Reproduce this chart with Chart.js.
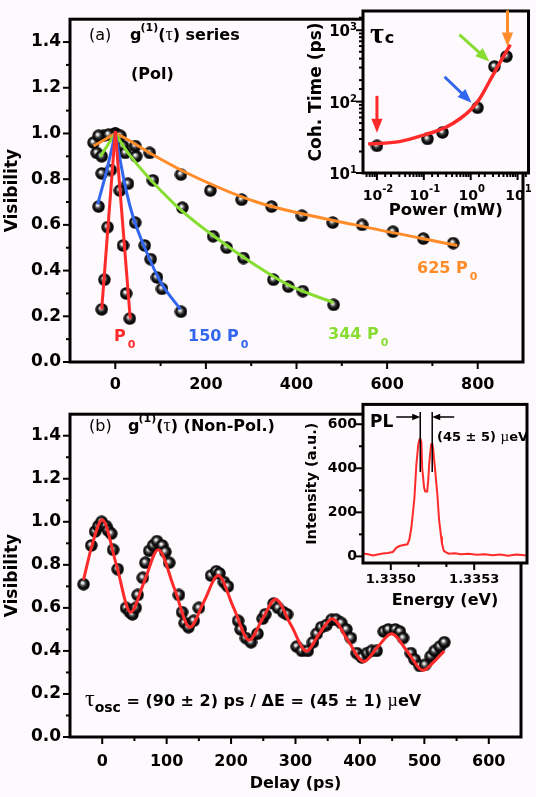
<!DOCTYPE html>
<html>
<head>
<meta charset="utf-8">
<script src="https://cdn.jsdelivr.net/npm/chart.js@4.4.1/dist/chart.umd.min.js"></script>
<style>
  body { margin: 0; background: #fdf9fc; }
  #wrap { position: relative; width: 536px; height: 797px; overflow: hidden; }
  canvas { position: absolute; }
</style>
</head>
<body>
<div id="wrap">
  <canvas id="chartA" style="left:0;top:0;width:536px;height:395px" width="536" height="395"></canvas>
  <canvas id="chartB" style="left:0;top:395px;width:536px;height:402px" width="536" height="402"></canvas>
  <canvas id="insetA" style="left:300px;top:0;width:236px;height:225px" width="236" height="225"></canvas>
  <canvas id="insetB" style="left:300px;top:390px;width:236px;height:225px" width="236" height="225"></canvas>
</div>
<script>
// ---- panel (a): visibility vs delay (ps), polarised, four powers
var p0Delay   = [-30, -24, -17, -10, 0, 10, 17, 24, 32];
var p0Vis     = [0.23, 0.36, 0.59, 0.84, 1.00, 0.75, 0.51, 0.30, 0.19];
var p150Delay = [-37, -30, 0, 28, 44, 65, 78, 92, 103, 145];
var p150Vis   = [0.68, 0.825, 1.00, 0.78, 0.61, 0.51, 0.45, 0.37, 0.32, 0.22];
var p344Delay = [-41, -30, -26, -4, 17, 22, 46, 83, 148, 216, 246, 283, 349, 382, 414, 482];
var p344Vis   = [0.915, 0.90, 0.99, 0.995, 0.945, 0.915, 0.90, 0.795, 0.675, 0.55, 0.50, 0.455, 0.36, 0.33, 0.31, 0.25];
var p625Delay = [-48, -37, -15, 11, 44, 76, 145, 210, 279, 345, 412, 480, 545, 613, 680, 746];
var p625Vis   = [0.96, 0.99, 0.995, 0.99, 0.945, 0.915, 0.82, 0.75, 0.71, 0.68, 0.64, 0.61, 0.60, 0.57, 0.54, 0.52];

// fitted curves
var fitP0Delay   = [-30, 0, 33];
var fitP0Vis     = [0.23, 1.01, 0.19];
var fitP150Delay = [-39, -20, 0, 12, 24, 40, 65, 100, 144];
var fitP150Vis   = [0.69, 0.83, 1.0, 0.87, 0.75, 0.63, 0.50, 0.35, 0.23];
var fitP344Delay = [-33, 0, 28, 131, 218, 312, 384, 482];
var fitP344Vis   = [0.90, 1.0, 0.915, 0.69, 0.55, 0.42, 0.335, 0.26];
var fitP625Delay = [-48, -22, 0, 21, 80, 159, 312, 530, 755];
var fitP625Vis   = [0.945, 0.975, 1.0, 0.98, 0.91, 0.826, 0.70, 0.60, 0.51];

// ---- panel (b): non-polarised, beating
var oscDelay = [-29, -17, -11, -6, -1,
  6, 9, 14, 17, 24,
  37, 43, 47, 52, 55,
  63, 67, 73, 79, 85,
  93, 98, 104, 119, 124,
  128, 134, 142, 150, 169,
  177, 182, 189, 195, 211,
  215, 223, 231, 241, 249,
  253, 266, 273, 281, 287,
  302, 310, 319, 327, 333,
  340, 348, 356, 363, 371,
  379, 386, 395, 403, 411,
  418, 426, 437, 444, 455,
  462, 467, 479, 485, 493,
  501, 510, 516, 524, 531];
var oscVis = [0.71, 0.89, 0.955, 0.98, 1.00,
  0.98, 0.96, 0.945, 0.87, 0.78,
  0.60, 0.58, 0.57, 0.60, 0.66,
  0.74, 0.81, 0.865, 0.89, 0.91,
  0.89, 0.86, 0.81, 0.66, 0.58,
  0.53, 0.51, 0.54, 0.60, 0.75,
  0.77, 0.76, 0.72, 0.70, 0.54,
  0.50, 0.46, 0.44, 0.48, 0.55,
  0.57, 0.62, 0.60, 0.58, 0.57,
  0.42, 0.40, 0.40, 0.44, 0.48,
  0.51, 0.52, 0.545, 0.545, 0.53,
  0.50, 0.46, 0.39, 0.37, 0.39,
  0.40, 0.40, 0.49, 0.50, 0.50,
  0.49, 0.46, 0.39, 0.36, 0.33,
  0.335, 0.375, 0.40, 0.42, 0.44];
var fitOscDelay = [-29, -15, 0, 22, 44, 65, 87, 112, 136, 158, 180, 204, 228, 249, 269,
  293, 317, 337, 357, 381, 406, 428, 449, 473, 498, 515, 531];
var fitOscVis = [0.73, 0.90, 1.01, 0.80, 0.58, 0.72, 0.87, 0.69, 0.51, 0.63, 0.75, 0.60, 0.45, 0.55, 0.64,
  0.52, 0.40, 0.48, 0.55, 0.45, 0.35, 0.42, 0.48, 0.40, 0.31, 0.35, 0.40];

// ---- inset (a): coherence time vs power
var powerMw   = [0.01, 0.12, 0.25, 1.4, 3.2, 5.8];
var cohTimePs = [24, 30, 37, 82, 310, 430];
var fitPowerMw = [0.0065, 0.03, 0.1, 0.3, 0.6, 1.0, 1.5, 2.9, 4.5, 7.0];
var fitCohPs   = [25.5, 27.5, 34, 44, 58, 77, 106, 228, 380, 630];
var arrowColors = ['#ff2a2a', null, null, '#3366ee', '#88dd33', '#ff8c28'];

// ---- inset (b): PL spectrum
var energyEv = [1.334900, 1.334918, 1.334936, 1.334953, 1.334971, 1.334989, 1.335007, 1.335021,
  1.335031, 1.335046, 1.335060, 1.335067, 1.335074, 1.335085, 1.335092, 1.335099, 1.335103,
  1.335106, 1.335110, 1.335113, 1.335120, 1.335124, 1.335131, 1.335135, 1.335138, 1.335145,
  1.335149, 1.335152, 1.335159, 1.335163, 1.335167, 1.335174, 1.335181, 1.335184, 1.335191,
  1.335199, 1.335209, 1.335231, 1.335252, 1.335280, 1.335309, 1.335337, 1.335366, 1.335394,
  1.335422, 1.335451, 1.335472, 1.335490];
var intensity = [13, 10, 4, 9, 13, 15, 20, 40,
  47, 52, 55, 78, 130, 265, 418, 508, 530,
  535, 520, 400, 310, 295, 295, 350, 418, 508,
  512, 490, 400, 342, 290, 162, 90, 58, 25,
  18, 12, 14, 10, 12, 8, 10, 5, 9,
  3, 8, 6, 4];
var plPeaksEv = [1.335106, 1.335149];
var intensityTicks = [0, 100, 200, 300, 400, 500, 600];

var BG = '#fdf9fc';
var F = '"DejaVu Sans", sans-serif';
var SERIF = '"Liberation Serif", serif';
var RED = '#ff2a2a', BLUE = '#3366ee', GREEN = '#88dd33', ORANGE = '#ff8c28';

Chart.defaults.font.family = F;
Chart.defaults.color = '#000';

function makeBall(d) {
  var c = document.createElement('canvas');
  c.width = d; c.height = d;
  var g = c.getContext('2d');
  var r = d / 2;
  var grad = g.createRadialGradient(r * 0.8, r * 0.75, 0, r, r, r);
  grad.addColorStop(0, '#ffffff');
  grad.addColorStop(0.16, '#e6e6e6');
  grad.addColorStop(0.38, '#555555');
  grad.addColorStop(0.62, '#111111');
  grad.addColorStop(1, '#000000');
  g.fillStyle = grad;
  g.beginPath();
  g.arc(r, r, r - 0.3, 0, Math.PI * 2);
  g.fill();
  return c;
}
var ball = makeBall(13);

function pts(xs, ys) {
  return xs.map(function (x, i) { return { x: x, y: ys[i] }; });
}
function branch(xs, ys, left) {
  return pts(xs, ys).filter(function (p) { return left ? p.x <= 0 : p.x >= 0; });
}
function ballSet(data) {
  return { data: data, pointStyle: ball, pointRadius: 6.5, showLine: false, order: 2 };
}
function lineSet(data, color, w) {
  return { data: data, showLine: true, borderColor: color, borderWidth: w, pointRadius: 0,
    cubicInterpolationMode: 'monotone', fill: false, order: 1 };
}
function isPow10(v) {
  var l = Math.log10(v);
  return Math.abs(l - Math.round(l)) < 1e-6;
}

// frame, chart background and major/minor tick marks
var axisMarks = {
  id: 'axisMarks',
  beforeDraw: function (chart) {
    var a = chart.chartArea, ctx = chart.ctx;
    ctx.save();
    ctx.fillStyle = BG;
    ctx.fillRect(a.left, a.top, a.right - a.left, a.bottom - a.top);
    ctx.restore();
  },
  afterDraw: function (chart) {
    var a = chart.chartArea, ctx = chart.ctx;
    ctx.save();
    ctx.strokeStyle = '#000';
    ctx.lineWidth = 2;
    ['x', 'y'].forEach(function (id) {
      var s = chart.scales[id];
      s.ticks.forEach(function (t) {
        var major = s.type === 'logarithmic' ? isPow10(t.value) : t.label !== '';
        var atEdge = Math.abs(t.value - s.min) < 1e-12 || Math.abs(t.value - s.max) < 1e-12;
        if (!major && atEdge) return;
        var p = s.getPixelForValue(t.value);
        var len = major ? 7 : 4;
        ctx.beginPath();
        if (id === 'x') { ctx.moveTo(p, a.bottom); ctx.lineTo(p, a.bottom + len); }
        else { ctx.moveTo(a.left, p); ctx.lineTo(a.left - len, p); }
        ctx.stroke();
      });
    });
    ctx.lineWidth = 3;
    ctx.strokeRect(a.left, a.top, a.right - a.left, a.bottom - a.top);
    ctx.restore();
  }
};

// text made of pieces: [text, font, dy, color, dx]
function rich(ctx, x, y, parts) {
  parts.forEach(function (p) {
    ctx.font = p[1];
    ctx.fillStyle = p[3] || '#000';
    x += p[4] || 0;
    ctx.fillText(p[0], x, y + (p[2] || 0));
    x += ctx.measureText(p[0]).width;
  });
}
function arrow(ctx, x1, y1, x2, y2, color, w, head) {
  var ang = Math.atan2(y2 - y1, x2 - x1);
  var c = Math.cos(ang), s = Math.sin(ang);
  ctx.strokeStyle = color;
  ctx.fillStyle = color;
  ctx.lineWidth = w;
  ctx.beginPath();
  ctx.moveTo(x1, y1);
  ctx.lineTo(x2 - c * head * 0.8, y2 - s * head * 0.8);
  ctx.stroke();
  ctx.beginPath();
  ctx.moveTo(x2, y2);
  ctx.lineTo(x2 - head * c + head * 0.4 * s, y2 - head * s - head * 0.4 * c);
  ctx.lineTo(x2 - head * c - head * 0.4 * s, y2 - head * s + head * 0.4 * c);
  ctx.closePath();
  ctx.fill();
}

var B16 = 'bold 16px ' + F;
var SUB = 'bold 11px ' + F;

function visAxis(title) {
  return {
    type: 'linear', min: 0, max: 1.5,
    grid: { display: false, drawTicks: false }, border: { display: false },
    ticks: { stepSize: 0.1, autoSkip: false, padding: 9, font: { size: 17, weight: 'bold' },
      callback: function (v) {
        var k = Math.round(v * 10);
        return (k % 2 === 0 && k <= 14) ? (k / 10).toFixed(1) : '';
      } },
    title: { display: true, text: title, font: { size: 17, weight: 'bold' }, padding: { top: 2 } },
    afterFit: function (s) { s.width = 70; }
  };
}

// ---------------- chart (a)
new Chart(document.getElementById('chartA'), {
  type: 'scatter',
  data: {
    datasets: [
      lineSet(branch(fitP0Delay, fitP0Vis, true), RED, 3),
      lineSet(branch(fitP0Delay, fitP0Vis, false), RED, 3),
      lineSet(branch(fitP150Delay, fitP150Vis, true), BLUE, 3),
      lineSet(branch(fitP150Delay, fitP150Vis, false), BLUE, 3),
      lineSet(branch(fitP344Delay, fitP344Vis, true), GREEN, 3),
      lineSet(branch(fitP344Delay, fitP344Vis, false), GREEN, 3),
      lineSet(branch(fitP625Delay, fitP625Vis, true), ORANGE, 3),
      lineSet(branch(fitP625Delay, fitP625Vis, false), ORANGE, 3),
      ballSet(pts(p625Delay, p625Vis)),
      ballSet(pts(p344Delay, p344Vis)),
      ballSet(pts(p150Delay, p150Vis)),
      ballSet(pts(p0Delay, p0Vis))
    ]
  },
  options: {
    responsive: false, animation: false,
    layout: { padding: { left: 0, right: 7, top: 10, bottom: 0 } },
    plugins: { legend: { display: false }, tooltip: { enabled: false } },
    scales: {
      x: {
        type: 'linear', min: -100, max: 900,
        grid: { display: false, drawTicks: false }, border: { display: false },
        ticks: { stepSize: 100, autoSkip: false, maxRotation: 0, padding: 13, font: { size: 16, weight: 'bold' },
          callback: function (v) { return v % 200 === 0 ? String(v) : ''; } },
        afterFit: function (s) { s.height = 33; }
      },
      y: visAxis('Visibility')
    }
  },
  plugins: [axisMarks, {
    id: 'textA',
    afterDraw: function (chart) {
      var ctx = chart.ctx;
      ctx.save();
      ctx.textBaseline = 'alphabetic';
      rich(ctx, 89, 40, [['(a)', '16px ' + F]]);
      rich(ctx, 130, 40, [['g', B16], ['(1)', SUB, -9, null, -1], ['(', B16], ['\u03c4', '18px ' + SERIF], [')', B16], [' series', B16]]);
      rich(ctx, 131, 79, [['(Pol)', B16]]);
      rich(ctx, 114, 341, [['P', B16, 0, RED], ['0', SUB, 7, RED, 2]]);
      rich(ctx, 188, 341, [['150 P', B16, 0, BLUE], ['0', SUB, 7, BLUE, 2]]);
      rich(ctx, 328, 339, [['344 P', B16, 0, GREEN], ['0', SUB, 7, GREEN, 2]]);
      rich(ctx, 417, 273, [['625 P', B16, 0, ORANGE], ['0', SUB, 7, ORANGE, 2]]);
      ctx.restore();
    }
  }]
});

// ---------------- chart (b)
new Chart(document.getElementById('chartB'), {
  type: 'scatter',
  data: {
    datasets: [
      lineSet(pts(fitOscDelay, fitOscVis), RED, 3),
      ballSet(pts(oscDelay, oscVis))
    ]
  },
  options: {
    responsive: false, animation: false,
    layout: { padding: { left: 0, right: 7, top: 6, bottom: 0 } },
    plugins: { legend: { display: false }, tooltip: { enabled: false } },
    scales: {
      x: {
        type: 'linear', min: -50, max: 650,
        grid: { display: false, drawTicks: false }, border: { display: false },
        ticks: { stepSize: 50, autoSkip: false, maxRotation: 0, padding: 15, font: { size: 16, weight: 'bold' },
          callback: function (v) { return v % 100 === 0 ? String(v) : ''; } },
        title: { display: true, text: 'Delay (ps)', font: { size: 16, weight: 'bold' }, padding: { bottom: 4 } },
        afterFit: function (s) { s.height = 60; }
      },
      y: visAxis('Visibility')
    }
  },
  plugins: [axisMarks, {
    id: 'textB',
    afterDraw: function (chart) {
      var ctx = chart.ctx;
      ctx.save();
      ctx.textBaseline = 'alphabetic';
      rich(ctx, 89, 36, [['(b)', '16px ' + F]]);
      rich(ctx, 128, 36, [['g', B16], ['(1)', SUB, -9, null, -1], ['(', B16], ['\u03c4', '18px ' + SERIF], [')', B16], [' (Non-Pol.)', B16]]);
      rich(ctx, 85, 311, [['\u03c4', '24px ' + SERIF], ['osc', 'bold 14px ' + F, 6],
        [' = (90 \u00b1 2) ps / \u0394E = (45 \u00b1 1) ', B16], ['\u00b5', '18px ' + SERIF], ['eV', B16]]);
      ctx.restore();
    }
  }]
});

// ---------------- inset (a)
new Chart(document.getElementById('insetA'), {
  type: 'scatter',
  data: {
    datasets: [
      lineSet(pts(fitPowerMw, fitCohPs), RED, 3.5),
      ballSet(pts(powerMw, cohTimePs))
    ]
  },
  options: {
    responsive: false, animation: false,
    layout: { padding: { left: 0, right: 7, top: 11, bottom: 0 } },
    plugins: { legend: { display: false }, tooltip: { enabled: false } },
    scales: {
      x: {
        type: 'logarithmic', min: 0.00504, max: 17.1,
        grid: { display: false, drawTicks: false }, border: { display: false },
        ticks: { autoSkip: false, maxRotation: 0, callback: function () { return ''; } },
        title: { display: true, text: 'Power (mW)', font: { size: 16.5, weight: 'bold' }, padding: { bottom: 4 } },
        afterFit: function (s) { s.height = 52; }
      },
      y: {
        type: 'logarithmic', min: 10, max: 1860,
        grid: { display: false, drawTicks: false }, border: { display: false },
        ticks: { autoSkip: false, callback: function () { return ''; } },
        title: { display: true, text: 'Coh. Time (ps)', font: { size: 17, weight: 'bold' }, padding: { top: 6 } },
        afterFit: function (s) { s.width = 63; }
      }
    }
  },
  plugins: [axisMarks, {
    id: 'textInsetA',
    afterDraw: function (chart) {
      var ctx = chart.ctx, a = chart.chartArea;
      var sx = chart.scales.x, sy = chart.scales.y;
      ctx.save();
      ctx.fillStyle = '#000';
      ctx.textBaseline = 'alphabetic';
      sx.ticks.forEach(function (t) {
        if (!isPow10(t.value)) return;
        var e = String(Math.round(Math.log10(t.value)));
        ctx.font = 'bold 14px ' + F;
        var w1 = ctx.measureText('10').width;
        ctx.font = 'bold 10px ' + F;
        var w2 = ctx.measureText(e).width;
        var x = sx.getPixelForValue(t.value) - (w1 + w2) / 2 + 1;
        rich(ctx, x, a.bottom + 27, [['10', 'bold 14px ' + F], [e, 'bold 10px ' + F, -8]]);
      });
      sy.ticks.forEach(function (t) {
        if (!isPow10(t.value)) return;
        var e = String(Math.round(Math.log10(t.value)));
        ctx.font = 'bold 15px ' + F;
        var w1 = ctx.measureText('10').width;
        ctx.font = 'bold 10px ' + F;
        var w2 = ctx.measureText(e).width;
        var y = sy.getPixelForValue(t.value);
        rich(ctx, a.left - 6 - w1 - w2, y + 6, [['10', 'bold 15px ' + F], [e, 'bold 10px ' + F, -6]]);
      });
      rich(ctx, 70, 43, [['\u03c4', 'bold 30px ' + SERIF], ['c', 'bold 16px ' + F, 0, null, 1]]);
      // arrows pointing at the four highlighted powers
      var offs = [[0, -50, 0, -13], null, null, [-33, -31, -6, -5], [-35, -32, -5, -5], [1, -46, 1, -10]];
      powerMw.forEach(function (p, i) {
        if (!offs[i]) return;
        var px = sx.getPixelForValue(p), py = sy.getPixelForValue(cohTimePs[i]);
        var o = offs[i];
        arrow(ctx, px + o[0], py + o[1], px + o[2], py + o[3], arrowColors[i], 3, 14);
      });
      ctx.restore();
    }
  }]
});

// ---------------- inset (b)
new Chart(document.getElementById('insetB'), {
  type: 'scatter',
  data: {
    datasets: [
      { data: pts(energyEv, intensity), showLine: true, borderColor: RED, borderWidth: 2,
        pointRadius: 0, tension: 0, fill: false }
    ]
  },
  options: {
    responsive: false, animation: false,
    layout: { padding: { left: 0, right: 7, top: 13, bottom: 0 } },
    plugins: { legend: { display: false }, tooltip: { enabled: false } },
    scales: {
      x: {
        type: 'linear', min: 1.33490, max: 1.33549,
        grid: { display: false, drawTicks: false }, border: { display: false },
        ticks: { stepSize: 0.0001, autoSkip: false, maxRotation: 0, padding: 9, font: { size: 13, weight: 'bold' },
          callback: function (v) {
            var k = Math.round(v * 10000);
            return (k === 13350 || k === 13353) ? (k / 10000).toFixed(4) : '';
          } },
        title: { display: true, text: 'Energy (eV)', font: { size: 16, weight: 'bold' }, padding: { bottom: 5 } },
        afterFit: function (s) { s.height = 52; }
      },
      y: {
        type: 'linear', min: -30, max: 690,
        grid: { display: false, drawTicks: false }, border: { display: false },
        afterBuildTicks: function (s) {
          s.ticks = intensityTicks.map(function (v) { return { value: v }; });
        },
        ticks: { autoSkip: false, padding: 6, font: { size: 14, weight: 'bold' },
          callback: function (v) { return v % 200 === 0 ? String(v) : ''; } },
        title: { display: true, text: 'Intensity (a.u.)', font: { size: 14.5, weight: 'bold' }, padding: { top: 4 } },
        afterFit: function (s) { s.width = 63; }
      }
    }
  },
  plugins: [axisMarks, {
    id: 'textInsetB',
    afterDraw: function (chart) {
      var ctx = chart.ctx, sx = chart.scales.x;
      var x1 = sx.getPixelForValue(plPeaksEv[0]), x2 = sx.getPixelForValue(plPeaksEv[1]);
      ctx.save();
      ctx.strokeStyle = '#000';
      ctx.lineWidth = 1.5;
      ctx.beginPath();
      ctx.moveTo(x1, 22); ctx.lineTo(x1, 82);
      ctx.moveTo(x2, 22); ctx.lineTo(x2, 82);
      ctx.stroke();
      arrow(ctx, x1 - 24, 27, x1, 27, '#000', 1.5, 8);
      arrow(ctx, x2 + 22, 27, x2, 27, '#000', 1.5, 8);
      ctx.textBaseline = 'alphabetic';
      rich(ctx, 70, 37, [['PL', 'bold 17px ' + F]]);
      rich(ctx, 137, 51, [['(45 \u00b1 5) ', 'bold 13px ' + F], ['\u00b5', '15px ' + SERIF], ['eV', 'bold 13px ' + F]]);
      ctx.restore();
    }
  }]
});
</script>
</body>
</html>
